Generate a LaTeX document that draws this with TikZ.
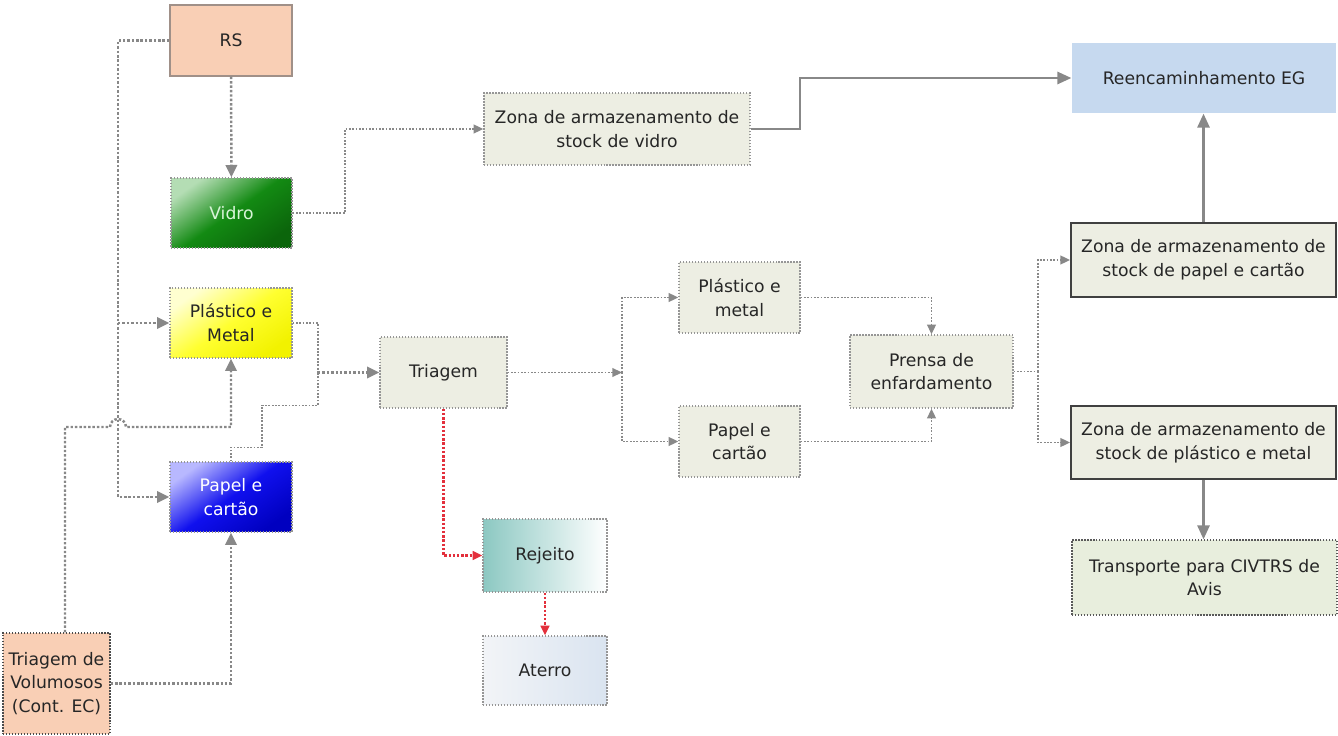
\documentclass[tikz,border=0pt]{standalone}
\usepackage{fontspec}
\setmainfont{DejaVu Sans}
\usetikzlibrary{arrows.meta}
\definecolor{linegray}{HTML}{888888}
\definecolor{boxline}{HTML}{969696}
\definecolor{boxfill}{HTML}{EDEEE3}
\definecolor{rsfill}{HTML}{F9CFB5}
\definecolor{rsline}{HTML}{A09088}
\definecolor{vidroLight}{HTML}{B4DDB4}
\definecolor{vidroMid}{HTML}{138A13}
\definecolor{vidroDark}{HTML}{0B650B}
\definecolor{vidroText}{HTML}{D8F5D8}
\definecolor{pmLight}{HTML}{FFFFD0}
\definecolor{pmMid}{HTML}{FFFF30}
\definecolor{pmDark}{HTML}{F2F200}
\definecolor{pcLight}{HTML}{B8B8FF}
\definecolor{pcMid}{HTML}{1010EE}
\definecolor{pcDark}{HTML}{0000C0}
\definecolor{rejTeal}{HTML}{8CC8C2}
\definecolor{aterroL}{HTML}{F2F4F7}
\definecolor{aterroR}{HTML}{DAE4F0}
\definecolor{reencfill}{HTML}{C6D9EF}
\definecolor{transpfill}{HTML}{E8EEDD}
\definecolor{rejred}{HTML}{E3303C}
\tikzset{
  box/.style={draw=boxline, dash pattern=on 0.8pt off 0.9pt, line width=0.8pt, fill=boxfill, text=black!85,
    align=center, inner sep=1pt, font=\fontsize{9.8}{13.5}\selectfont},
  solidbox/.style={box, solid, draw=black!75, line width=1.1pt},
  link/.style={draw=linegray, line width=1.4pt, dash pattern=on 1.4pt off 1.1pt},
  thinlink/.style={draw=linegray, line width=0.9pt, dash pattern=on 1pt off 0.9pt},
  flow/.style={link, -{Triangle[length=7pt,width=6.5pt]}},
  thinflow/.style={thinlink, -{Triangle[length=5.5pt,width=5pt]}},
  mainflow/.style={draw=linegray, line width=1.3pt, -{Triangle[length=8pt,width=7pt]}},
  rejflow/.style={draw=rejred, line width=1.2pt, dash pattern=on 1.4pt off 1pt, -{Triangle[length=5.5pt,width=5pt]}},
}
\begin{document}
\begin{tikzpicture}[x=0.02cm, y=-0.02cm]
  \useasboundingbox (0,0) rectangle (1338,736);
  % entradas
  \node[box, solid, draw=rsline, fill=rsfill, minimum width=2.44cm, minimum height=1.42cm] (rs) at (231,40.5) {RS};
  \node[box, top color=vidroLight, bottom color=vidroDark, middle color=vidroMid, shading angle=35,
    text=vidroText, minimum width=2.42cm, minimum height=1.4cm] (vidro) at (231.5,213) {Vidro};
  \node[box, top color=pmLight, bottom color=pmDark, middle color=pmMid, shading angle=35,
    minimum width=2.44cm, minimum height=1.4cm] (pm) at (231,323) {Plástico e\\Metal};
  \node[box, top color=pcLight, bottom color=pcDark, middle color=pcMid, shading angle=35,
    text=white, minimum width=2.44cm, minimum height=1.4cm] (pc) at (231,497) {Papel e\\cartão};
  \node[box, draw=black!70, fill=rsfill, minimum width=2.14cm, minimum height=2.02cm] (volum) at (56.5,683.5) {Triagem de\\Volumosos\\(Cont. EC)};
  % centro
  \node[box, minimum width=5.32cm, minimum height=1.44cm] (zvidro) at (617,129) {Zona de armazenamento de\\stock de vidro};
  \node[box, minimum width=2.54cm, minimum height=1.42cm] (triagem) at (443.5,372.5) {Triagem};
  \node[box, minimum width=2.42cm, minimum height=1.42cm] (pm2) at (739.5,297.5) {Plástico e\\metal};
  \node[box, minimum width=2.42cm, minimum height=1.42cm] (pc2) at (739.5,441.5) {Papel e\\cartão};
  \node[box, minimum width=3.26cm, minimum height=1.46cm] (prensa) at (931.5,371.5) {Prensa de\\enfardamento};
  \node[box, left color=rejTeal, right color=white, minimum width=2.48cm, minimum height=1.46cm] (rejeito) at (545,555.5) {Rejeito};
  \node[box, left color=aterroL, right color=aterroR, minimum width=2.48cm, minimum height=1.38cm] (aterro) at (545,670.5) {Aterro};
  % saidas
  \node[box, draw=none, fill=reencfill, minimum width=5.28cm, minimum height=1.4cm] (reenc) at (1204,78) {Reencaminhamento EG};
  \node[solidbox, minimum width=5.3cm, minimum height=1.48cm] (zpapel) at (1203.5,260) {Zona de armazenamento de\\stock de papel e cartão};
  \node[solidbox, minimum width=5.3cm, minimum height=1.46cm] (zplast) at (1203.5,442.5) {Zona de armazenamento de\\stock de plástico e metal};
  \node[box, draw=black!65, fill=transpfill, minimum width=5.3cm, minimum height=1.5cm] (transp) at (1204.5,577.5) {Transporte para CIVTRS de\\Avis};

  \coordinate (jl) at (118,0); \coordinate (hop) at (118,427); \coordinate (jv) at (345,0);
  \coordinate (jr) at (800,0); \coordinate (jt) at (318,0); \coordinate (jb) at (622,0); \coordinate (jz) at (1038,0);
  % ligacoes
  \draw[flow] (rs) -- (vidro);
  \draw[flow] (rs.west) -| (jl |- pm) -- (pm.west);
  \draw[flow] (jl |- pm) |- (pc.west);
  \draw[flow] ([xshift=0.17cm]volum.north) |- ([xshift=-0.16cm]hop) arc[start angle=180, end angle=0, radius=0.16cm] -| (pm.south);
  \draw[flow] (volum.east) -| (pc.south);
  \draw[thinflow] (vidro.east) -| (jv |- zvidro) -- (zvidro.west);
  \draw[mainflow] (zvidro.east) -| (jr |- reenc) -- (reenc.west);
  \draw[thinlink] (pm.east) -| (jt |- triagem);
  \draw[thinlink] (pc.north) |- ++(31,-14) |- ++(56,-42) -- (jt |- triagem);
  \draw[flow] (jt |- triagem) -- (triagem.west);
  \draw[thinflow] (triagem.east) -- (jb |- triagem);
  \draw[thinflow] (jb |- triagem) |- (pm2.west);
  \draw[thinflow] (jb |- triagem) |- (pc2.west);
  \draw[thinflow] (pm2.east) -| (prensa.north);
  \draw[thinflow] (pc2.east) -| (prensa.south);
  \draw[thinlink] (prensa.east) -- (jz |- prensa);
  \draw[thinflow] (jz |- prensa) |- (zpapel.west);
  \draw[thinflow] (jz |- prensa) |- (zplast.west);
  \draw[mainflow] (zpapel.north) -- (zpapel.north |- reenc.south);
  \draw[mainflow] (zplast.south) -- (zplast.south |- transp.north);
  % rejeitados
  \draw[rejflow] (triagem.south) |- (rejeito.west);
  \draw[rejflow] (rejeito) -- (aterro);
\end{tikzpicture}
\end{document}
